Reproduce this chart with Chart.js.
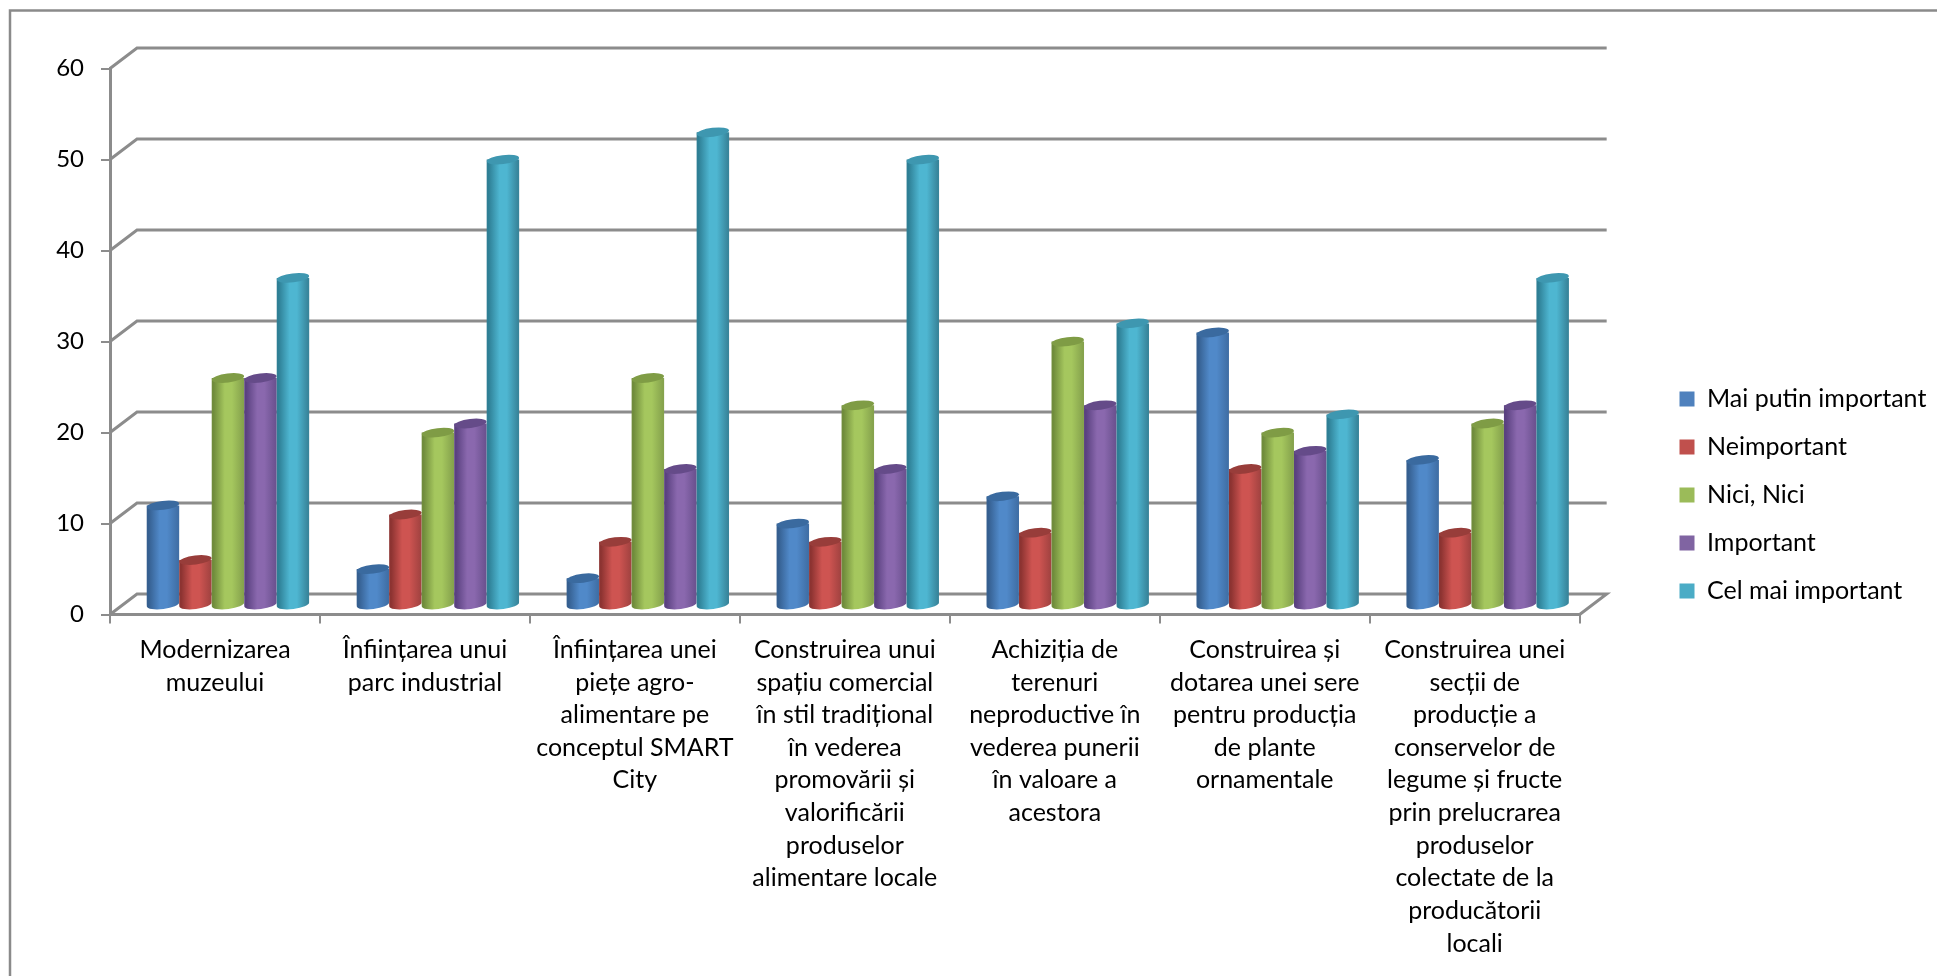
<!DOCTYPE html>
<html><head><meta charset="utf-8">
<style>html,body{margin:0;padding:0;background:#fff}#w{width:1937px;height:976px;position:relative;overflow:hidden}</style>
<script src="https://cdn.jsdelivr.net/npm/chart.js@4"></script>
</head><body><div id="w"><canvas id="c" width="1937" height="976"></canvas></div>
<script>
const categories=[
["Modernizarea","muzeului"],
["Înființarea unui","parc industrial"],
["Înființarea unei","piețe agro-","alimentare pe","conceptul SMART","City"],
["Construirea unui","spațiu comercial","în stil tradițional","în vederea","promovării și","valorificării","produselor","alimentare locale"],
["Achiziția de","terenuri","neproductive în","vederea punerii","în valoare a","acestora"],
["Construirea și","dotarea unei sere","pentru producția","de plante","ornamentale"],
["Construirea unei","secții de","producție a","conservelor de","legume și fructe","prin prelucrarea","produselor","colectate de la","producătorii","locali"]];
const maiPutin=[11,4,3,9,12,30,16];
const neimportant=[5,10,7,7,8,15,8];
const niciNici=[25,19,25,22,29,19,20];
const important=[25,20,15,15,22,17,22];
const celMai=[36,49,52,49,31,21,36];
const seriesNames=["Mai putin important","Neimportant","Nici, Nici","Important","Cel mai important"];
const seriesValues=[maiPutin,neimportant,niciNici,important,celMai];
const flat=["#4f81bd","#c0504d","#9bbb59","#8064a2","#4bacc6"];
const shades={
 "#4f81bd":{d:"#355f90",m:"#5089c9",r:"#406fa6",t:"#3a6a9f"},
 "#c0504d":{d:"#8c3331",m:"#ce5451",r:"#a34341",t:"#983d3a"},
 "#9bbb59":{d:"#708c3c",m:"#a5c75e",r:"#86a34d",t:"#7f9c45"},
 "#8064a2":{d:"#5a4180",m:"#8a68ae",r:"#6c5290",t:"#654b89"},
 "#4bacc6":{d:"#2e7f95",m:"#4eb6d1",r:"#38859b",t:"#3e97b0"}};
const FONT="Lato, Carlito, sans-serif",FS=25,GRID="#8c8c8c";
const DX=13,DY=9,WX=27,WY=20.5;

Chart.BarElement.prototype.draw=function(ctx){
  const {x,y,base,width}=this.getProps(['x','y','base','width'],true);
  const s=shades[this.options.backgroundColor]; const l=x-width/2,r=x+width/2,rx=width/2,ry=4.5,tilt=-0.12;
  const g=ctx.createLinearGradient(l,0,r,0);
  g.addColorStop(0,s.d);g.addColorStop(.06,s.d);g.addColorStop(.4,s.m);g.addColorStop(.62,s.m);g.addColorStop(.96,s.r);g.addColorStop(1,s.r);
  ctx.save();ctx.fillStyle=g;
  ctx.beginPath();ctx.moveTo(l,y);ctx.lineTo(l,base);
  ctx.ellipse(x,base,rx,ry,tilt,Math.PI,0,true);
  ctx.lineTo(r,y);ctx.closePath();ctx.fill();
  ctx.fillStyle=s.t;ctx.beginPath();ctx.ellipse(x,y,rx,ry,tilt,0,Math.PI*2);ctx.fill();
  ctx.restore();
};
const wall={id:'wall',
 afterLayout(c){const L=c.legend;L.top=0;L.bottom=990;L.left=1679.5-23;},
 beforeDatasetsDraw(c){
  const ctx=c.ctx,ys=c.scales.y,a=c.chartArea;
  ctx.save();
  ctx.strokeStyle="#8a8a8a";ctx.lineWidth=2.5;
  ctx.beginPath();ctx.moveTo(10,976);ctx.lineTo(10,10.5);ctx.lineTo(1937,10.5);ctx.stroke();
  ctx.strokeStyle=GRID;ctx.lineWidth=3;
  for(const t of ys.ticks){const p=ys.getPixelForValue(t.value);
   ctx.beginPath();ctx.moveTo(a.left,p);ctx.lineTo(a.left+WX,p-WY);ctx.lineTo(a.right+WX,p-WY);
   if(t.value===0)ctx.lineTo(a.right,p);
   ctx.stroke();}
  ctx.restore();
 },
 beforeDatasetDraw(){return false;},
 afterDatasetsDraw(c){
  const ctx=c.ctx;ctx.save();ctx.translate(DX,-DY);
  seriesNames.forEach((n,i)=>c.getDatasetMeta(i).controller.draw());
  ctx.restore();
 }
};
new Chart(document.getElementById('c'),{type:'bar',plugins:[wall],
 data:{labels:categories,datasets:seriesNames.map((n,i)=>({label:n,data:seriesValues[i],backgroundColor:flat[i],borderWidth:0,
   clip:false,barPercentage:1,categoryPercentage:.774}))},
 options:{responsive:false,animation:false,
  layout:{padding:{top:68.5,left:0,right:0,bottom:0}},
  plugins:{tooltip:{enabled:false},title:{display:false},
   legend:{position:'right',align:'center',labels:{boxWidth:15,boxHeight:15,padding:23,color:'#000',font:{family:FONT,size:FS}}}},
  scales:{
   x:{afterFit(s){s.height=361.5;},offset:true,
     grid:{display:true,drawOnChartArea:false,offset:true,color:GRID,lineWidth:2,tickLength:9},
     border:{display:true,color:GRID,width:3},
     ticks:{autoSkip:false,maxRotation:0,minRotation:0,color:'#000',padding:10,font:{family:FONT,size:FS,lineHeight:1.305}}},
   y:{min:0,max:60,afterFit(s){s.width=110;},
     grid:{display:true,drawOnChartArea:false,color:GRID,lineWidth:2,tickLength:9},
     border:{display:true,color:GRID,width:3},
     ticks:{stepSize:10,color:'#000',padding:17,font:{family:FONT,size:24}}},
   gap:{position:'right',display:true,min:0,max:1,afterFit(s){s.width=77.5;},
     grid:{display:false},border:{display:false},ticks:{display:false}}
  }}});
</script></body></html>
